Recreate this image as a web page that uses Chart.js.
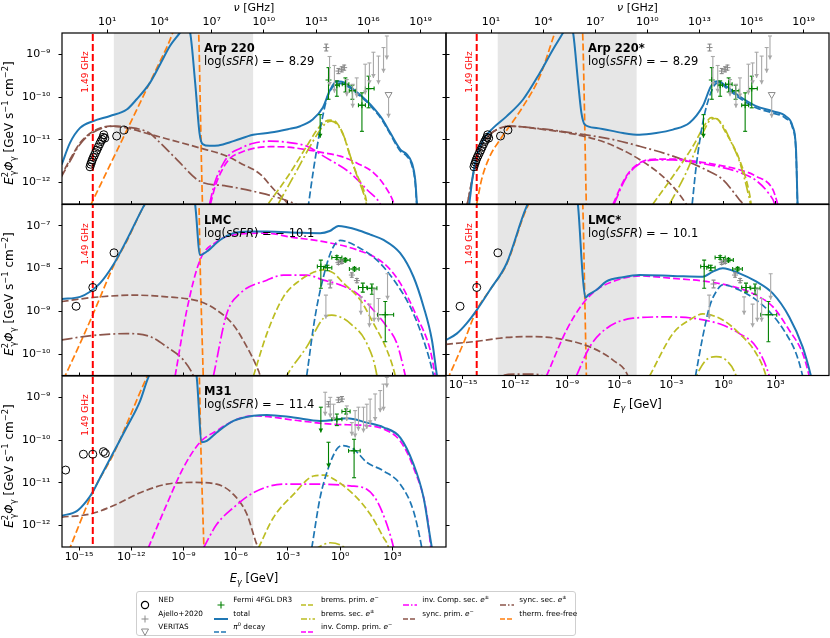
<!DOCTYPE html>
<html>
<head>
<meta charset="utf-8">
<script src="https://cdn.jsdelivr.net/npm/chart.js@4.4.0/dist/chart.umd.min.js"></script>
<style>
  body { margin: 0; background: #fff; font-family: "DejaVu Sans", sans-serif; }
  #wrap { position: relative; width: 830px; height: 638px; overflow: hidden; }
  canvas { position: absolute; left: 0; top: 0; pointer-events: none; }
  .t { position: absolute; white-space: nowrap; color: #000; line-height: 13px; }
  .c { transform: translate(-50%, -50%); }
  .rot { transform: translate(-50%, -50%) rotate(-90deg); }
  sup, sub { font-size: 0.7em; line-height: 0; }
  #legend { position: absolute; left: 136px; top: 591px; width: 440px; height: 45px;
            border: 1px solid #cfcfcf; border-radius: 3px; background: #fff; box-sizing: border-box; }
  .lt { position: absolute; white-space: nowrap; font-size: 7.3px; line-height: 10px;
        transform: translateY(-50%); }
  .lh { position: absolute; }
</style>
</head>
<body>
<div id="wrap">
  <canvas id="c0" width="830" height="638"></canvas>
  <canvas id="c1" width="830" height="638"></canvas>
  <canvas id="c2" width="830" height="638"></canvas>
  <canvas id="c3" width="830" height="638"></canvas>
  <canvas id="c4" width="830" height="638"></canvas>
  <div id="legend"></div>
</div>
<script>
// ---- axes ----
const XMIN = 1.05e-16, XMAX = 1.2e6;          // E_gamma [GeV]
const NU_PER_GEV = 2.418e14;                  // GHz per GeV
const E_TICKS = [-15, -12, -9, -6, -3, 0, 3];
const NU_TICKS = [1, 4, 7, 10, 13, 16, 19];
const ROW_Y = [[-12.5, -8.5], [-10.5, -6.5], [-12.5, -8.5]];
const ROW_TICKS = [[-12, -11, -10, -9], [-10, -9, -8, -7], [-12, -11, -10, -9]];
const E_149 = 1.49 / NU_PER_GEV;
const SHADE = [1e-13, 1e-5];

// ---- data, [log10 E, log10 E^2 Phi] ----
const nedArp = [[-14.37,-11.63],[-14.33,-11.57],[-14.28,-11.52],[-14.24,-11.47],[-14.18,-11.41],[-14.12,-11.36],[-14.05,-11.3],[-13.98,-11.24],[-13.9,-11.17],[-13.82,-11.1],[-13.75,-11.04],[-13.68,-10.99],[-13.62,-10.94],[-13.58,-10.88],[-13.52,-10.96],[-12.84,-10.91],[-12.41,-10.77]];
const nedLmc = [[-15.17,-8.88],[-14.21,-8.44],[-12.99,-7.63]];
const nedM31 = [[-15.77,-10.70],[-14.75,-10.33],[-14.21,-10.33],[-13.6,-10.27],[-13.49,-10.31]];

// Fermi: [E, F, Elo, Ehi, Flo, Fhi, arrow]
const fermiArp = [[-1.15,-10.41,-1.15,-1.15,-10.95,-10.41,1],[-0.67,-9.6,-0.67,-0.67,-10.05,-9.31,0],[-0.19,-9.72,-0.33,-0.05,-9.98,-9.62,0],[0.3,-9.7,0.12,0.5,-9.88,-9.55,0],[0.7,-9.85,0.52,0.9,-10.05,-9.72,0],[1.25,-10.19,1.05,1.45,-10.8,-9.9,0],[1.63,-9.8,1.45,1.95,-10.25,-9.51,0]];
const fermiLmc = [[-1.11,-7.95,-1.31,-0.86,-8.46,-7.8,0],[-0.73,-7.98,-0.96,-0.48,-8.05,-7.92,0],[-0.19,-7.74,-0.48,0.1,-7.78,-7.7,0],[0.29,-7.8,0.0,0.57,-7.84,-7.76,0],[0.82,-8.01,0.53,1.09,-8.05,-7.97,0],[1.3,-8.44,1.05,1.53,-8.55,-8.34,0],[1.82,-8.46,1.57,2.11,-8.6,-8.36,0],[2.59,-9.08,2.15,3.07,-9.71,-8.77,0]];
const fermiM31 = [[-1.11,-9.23,-1.11,-1.11,-9.82,-9.23,1],[-0.67,-10.05,-0.67,-0.67,-10.64,-10.05,1],[-0.19,-9.51,-0.48,0.1,-9.66,-9.39,0],[0.34,-9.33,0.1,0.57,-9.39,-9.27,0],[0.8,-10.25,0.48,1.15,-10.88,-9.98,0]];

// Ajello+2020 detections: [E, F, Flo, Fhi]
const ajArp = [[-0.8,-8.84,-8.92,-8.76],[-0.1,-9.39,-9.45,-9.33],[0.09,-9.35,-9.41,-9.29],[0.23,-9.31,-9.37,-9.25]];
const ajLmc = [[-0.57,-8.36,-8.45,-8.27],[-0.1,-7.86,-7.9,-7.82],[0.1,-7.84,-7.88,-7.8],[0.67,-8.15,-8.2,-8.1],[0.96,-8.28,-8.33,-8.23]];
const ajM31 = [[-0.67,-9.16,-9.22,-9.1],[-0.1,-9.06,-9.12,-9.0],[0.1,-9.04,-9.1,-8.98]];

// upper limits: [E, Ftop, Farrow]
const ulArp = [[-0.61,-9.05,-9.74],[-0.33,-9.26,-9.9],[0.38,-9.59,-9.98],[0.72,-9.7,-10.25],[0.95,-9.55,-10.01],[1.44,-9.23,-9.94],[1.68,-9.2,-9.7],[1.91,-8.95,-9.55],[2.2,-9.04,-9.7],[2.49,-8.84,-9.43],[2.68,-8.57,-9.12]];
const ulLmc = [[-0.82,-8.62,-9.17],[1.19,-8.66,-9.08],[1.68,-8.83,-9.37],[1.95,-8.48,-9.24],[2.2,-8.7,-9.24],[2.72,-8.12,-8.73]];
const ulM31 = [[-0.86,-8.88,-9.43],[-0.57,-9.0,-9.47],[-0.38,-9.16,-9.55],[0.38,-9.2,-9.55],[0.67,-9.59,-9.9],[0.86,-9.31,-9.94],[1.05,-9.23,-9.78],[1.34,-9.23,-9.82],[1.53,-9.16,-9.74],[1.72,-9.04,-9.63],[2.01,-8.92,-9.55],[2.3,-8.84,-9.35],[2.49,-8.69,-9.31],[2.68,-8.53,-8.77]];
const verArp = [[2.78,-9.94,-10.48]];

// model curves
const arpTotal = [[-16.0,-11.58],[-15.52,-11.07],[-14.94,-10.72],[-14.18,-10.56],[-13.22,-10.44],[-12.26,-10.29],[-11.69,-10.05],[-10.92,-9.66],[-10.34,-9.23],[-9.77,-8.8],[-9.2,-8.49],[-8.9,-8.3],[-8.62,-8.49],[-8.33,-9.66],[-8.08,-10.84],[-7.9,-11.1],[-7.5,-11.14],[-7.0,-11.13],[-6.13,-11.03],[-5.0,-10.88],[-4.0,-10.83],[-3.0,-10.75],[-2.3,-10.68],[-1.6,-10.53],[-1.0,-10.25],[-0.6,-9.85],[-0.2,-9.63],[0.1,-9.64],[0.38,-9.7],[1.0,-9.9],[1.5,-10.08],[1.91,-10.25],[2.4,-10.5],[2.87,-10.83],[3.45,-11.22],[3.83,-11.34],[4.12,-11.54],[4.31,-11.93],[4.41,-12.5],[4.55,-13.2]];
const arpPi0 = [[-1.85,-12.6],[-1.53,-11.69],[-1.15,-10.76],[-0.77,-10.05],[-0.38,-9.74],[-0.05,-9.68],[0.38,-9.74],[1.0,-9.93],[1.5,-10.1],[1.91,-10.28],[2.4,-10.53],[2.87,-10.86],[3.45,-11.26],[3.83,-11.38],[4.12,-11.6],[4.31,-12.0],[4.41,-12.6]];
const arpBremP = [[-4.12,-12.49],[-3.0,-11.85],[-2.0,-11.2],[-1.3,-10.75],[-0.9,-10.58],[-0.57,-10.54],[-0.2,-10.6],[0.2,-10.9],[0.57,-11.38],[1.0,-11.85],[1.34,-12.16],[1.53,-12.5],[1.6,-12.8]];
const arpBremS = [[-3.55,-12.49],[-2.6,-11.8],[-1.8,-11.2],[-1.2,-10.8],[-0.8,-10.6],[-0.5,-10.56],[-0.15,-10.65],[0.25,-10.95],[0.6,-11.4],[1.0,-11.88],[1.3,-12.2],[1.5,-12.5],[1.6,-12.8]];
const arpIcP = [[-7.45,-12.5],[-7.15,-12.05],[-6.71,-11.65],[-6.32,-11.43],[-5.75,-11.3],[-4.98,-11.2],[-4.0,-11.16],[-3.0,-11.17],[-1.92,-11.23],[-1.0,-11.3],[0.0,-11.38],[1.0,-11.55],[1.92,-11.77],[2.6,-12.1],[3.07,-12.47],[3.3,-12.8]];
const arpIcS = [[-7.5,-12.5],[-7.2,-12.0],[-6.71,-11.55],[-6.32,-11.33],[-5.75,-11.2],[-4.98,-11.08],[-4.0,-11.03],[-3.0,-11.06],[-1.9,-11.15],[-0.96,-11.38],[0.57,-11.77],[1.53,-12.16],[2.3,-12.5],[2.5,-12.7]];
const arpSyncP = [[-16.09,-11.89],[-15.52,-11.46],[-14.94,-11.07],[-14.18,-10.8],[-13.22,-10.68],[-12.26,-10.72],[-10.92,-10.87],[-8.05,-11.19],[-6.51,-11.38],[-5.75,-11.54],[-4.6,-11.8],[-3.83,-12.15],[-3.0,-12.5],[-2.6,-12.8]];
const arpSyncS = [[-16.09,-11.92],[-15.52,-11.5],[-14.94,-11.1],[-14.18,-10.82],[-13.0,-10.68],[-12.2,-10.7],[-10.92,-10.85],[-10.34,-11.07],[-9.38,-11.46],[-8.05,-11.97],[-6.51,-12.08],[-4.6,-12.24],[-3.2,-12.4],[-2.5,-12.52],[-2.0,-12.7]];
const arpFF = [[-14.6,-12.75],[-12.0,-10.56],[-10.0,-8.87],[-8.3,-7.45],[-8.12,-8.6],[-8.03,-10.3],[-7.97,-11.5],[-7.9,-12.7]];

const arsTotal = [[-14.8,-13.0],[-14.64,-12.5],[-14.41,-11.77],[-14.21,-11.38],[-13.83,-10.99],[-13.26,-10.72],[-12.49,-10.45],[-11.53,-10.05],[-10.57,-9.43],[-9.81,-8.88],[-9.23,-8.49],[-8.9,-8.25],[-8.66,-8.49],[-8.37,-9.66],[-8.18,-10.37],[-7.99,-10.64],[-7.32,-10.72],[-5.79,-10.84],[-4.83,-10.88],[-3.87,-10.84],[-2.91,-10.76],[-1.95,-10.6],[-1.19,-10.21],[-0.71,-9.74],[-0.33,-9.63],[0.15,-9.74],[0.92,-9.98],[1.88,-10.21],[2.84,-10.33],[3.6,-10.45],[3.98,-10.68],[4.18,-11.23],[4.27,-12.5],[4.35,-13.0]];
const arsPi0 = [[-1.8,-12.5],[-1.57,-11.62],[-1.19,-10.6],[-0.8,-9.98],[-0.42,-9.68],[-0.2,-9.66],[0.15,-9.78],[0.92,-10.02],[1.88,-10.25],[2.84,-10.37],[3.6,-10.5],[3.98,-10.72],[4.18,-11.3],[4.27,-12.6]];
const arsBremP = [[-4.06,-12.5],[-2.91,-11.85],[-1.76,-11.15],[-1.0,-10.6],[-0.71,-10.48],[-0.4,-10.5],[0.15,-10.84],[0.92,-11.46],[1.49,-12.24],[1.59,-12.5],[1.65,-12.8]];
const arsBremS = [[-3.1,-12.5],[-2.15,-11.77],[-1.19,-10.84],[-0.71,-10.52],[-0.45,-10.5],[-0.1,-10.62],[0.5,-11.1],[0.92,-11.5],[1.45,-12.3],[1.55,-12.5],[1.6,-12.8]];
const arsIcP = [[-6.36,-12.5],[-5.6,-11.85],[-4.83,-11.54],[-3.87,-11.45],[-2.91,-11.45],[-1.0,-11.54],[0.92,-11.7],[1.88,-11.85],[2.84,-12.16],[3.12,-12.5],[3.3,-12.8]];
const arsIcS = [[-6.3,-12.5],[-5.6,-11.88],[-4.83,-11.56],[-3.87,-11.47],[-2.91,-11.47],[-1.0,-11.57],[0.92,-11.76],[1.88,-11.95],[2.6,-12.25],[2.95,-12.5],[3.1,-12.8]];
const arsSyncP = [[-14.8,-12.6],[-14.4,-11.8],[-14.0,-11.2],[-13.5,-10.9],[-13.0,-10.75],[-12.3,-10.68],[-10.5,-10.75],[-8.66,-10.86],[-6.74,-11.07],[-4.83,-11.46],[-3.3,-11.93],[-2.15,-12.5],[-1.9,-12.7]];
const arsSyncS = [[-14.8,-12.6],[-14.4,-11.8],[-14.0,-11.2],[-13.5,-10.9],[-13.0,-10.75],[-12.3,-10.68],[-10.5,-10.74],[-8.66,-10.84],[-6.5,-10.98],[-4.83,-11.15],[-2.91,-11.38],[-1.0,-11.7],[-0.04,-11.93],[0.92,-12.4],[1.11,-12.5],[1.3,-12.7]];
const arsFF = [[-14.21,-12.5],[-13.93,-11.93],[-13.45,-11.38],[-12.87,-11.0],[-11.53,-10.21],[-10.57,-9.51],[-9.71,-8.49],[-9.2,-7.9],[-8.3,-7.3],[-8.1,-8.6],[-8.0,-10.4],[-7.95,-11.5],[-7.89,-12.7]];

const lmcTotal = [[-16.0,-8.71],[-14.94,-8.66],[-14.37,-8.54],[-13.79,-8.34],[-13.03,-7.91],[-12.26,-7.33],[-11.3,-6.55],[-10.5,-6.0],[-9.5,-5.6],[-8.6,-6.0],[-8.33,-6.5],[-8.05,-7.68],[-7.66,-7.6],[-6.9,-7.33],[-6.13,-7.17],[-5.17,-7.13],[-4.21,-7.13],[-2.3,-7.16],[-1.15,-7.17],[-0.6,-7.12],[-0.1,-7.0],[0.4,-7.03],[0.96,-7.09],[1.7,-7.2],[2.49,-7.33],[3.45,-7.64],[4.21,-8.19],[4.79,-8.89],[5.27,-9.67],[5.56,-10.5],[5.7,-10.8]];
const lmcPi0 = [[-1.92,-10.5],[-1.44,-9.12],[-0.96,-8.19],[-0.48,-7.56],[0.0,-7.34],[0.3,-7.36],[0.96,-7.48],[2.11,-7.8],[3.07,-8.26],[4.02,-8.89],[4.79,-9.67],[5.36,-10.5],[5.5,-10.8]];
const lmcBremP = [[-4.98,-10.51],[-4.21,-9.52],[-3.26,-8.66],[-2.3,-8.27],[-1.5,-8.08],[-1.0,-8.03],[-0.4,-8.1],[0.19,-8.34],[1.15,-8.73],[1.91,-9.28],[2.68,-9.9],[3.16,-10.5],[3.3,-10.8]];
const lmcBremS = [[-3.2,-10.6],[-2.87,-10.37],[-1.92,-9.83],[-0.96,-9.16],[-0.48,-9.09],[0.0,-9.13],[0.57,-9.28],[1.53,-9.75],[2.11,-10.5],[2.2,-10.8]];
const lmcIcP = [[-9.48,-10.51],[-8.81,-8.97],[-8.05,-7.8],[-7.09,-7.37],[-6.13,-7.21],[-4.21,-7.17],[-2.87,-7.26],[-0.96,-7.37],[0.96,-7.56],[2.49,-7.87],[3.45,-8.34],[4.4,-9.12],[5.17,-9.9],[5.46,-10.5],[5.6,-10.8]];
const lmcIcS = [[-7.28,-10.51],[-6.51,-9.05],[-5.75,-8.58],[-4.21,-8.27],[-3.26,-8.15],[-1.92,-8.15],[-0.96,-8.27],[0.0,-8.38],[0.96,-8.58],[1.91,-8.97],[2.68,-9.36],[3.26,-9.75],[3.74,-10.5],[3.9,-10.8]];
const lmcSyncP = [[-16.0,-8.77],[-14.75,-8.7],[-13.79,-8.66],[-11.88,-8.62],[-9.96,-8.66],[-8.05,-8.77],[-7.09,-8.97],[-6.13,-9.32],[-5.36,-9.83],[-4.79,-10.3],[-4.6,-10.51],[-4.5,-10.8]];
const lmcSyncS = [[-16.0,-9.67],[-14.75,-9.59],[-13.79,-9.55],[-12.26,-9.52],[-10.92,-9.59],[-9.96,-9.83],[-9.0,-10.14],[-8.43,-10.51],[-8.2,-10.8]];
const lmcFF = [[-15.9,-10.6],[-14.94,-9.75],[-14.18,-9.05],[-13.03,-7.95],[-12.26,-7.36],[-11.3,-6.55],[-9.5,-5.3],[-8.3,-4.8],[-8.12,-6.3],[-8.05,-7.8],[-7.86,-10.6]];

const lmsTotal = [[-15.98,-9.67],[-15.36,-9.52],[-14.79,-9.28],[-14.21,-8.97],[-13.45,-8.5],[-12.49,-7.88],[-11.34,-6.55],[-10.5,-6.0],[-9.5,-5.6],[-8.6,-6.0],[-8.37,-6.55],[-8.1,-8.2],[-7.95,-8.68],[-7.8,-8.62],[-7.32,-8.5],[-6.74,-8.3],[-5.79,-8.2],[-4.83,-8.15],[-2.91,-8.17],[-1.19,-8.19],[-0.61,-8.07],[-0.04,-7.99],[0.92,-8.11],[1.88,-8.3],[2.84,-8.58],[3.79,-9.13],[4.56,-9.83],[5.04,-10.51],[5.2,-10.8]];
const lmsPi0 = [[-1.61,-10.51],[-1.19,-9.59],[-0.8,-8.89],[-0.42,-8.54],[-0.04,-8.38],[0.3,-8.4],[0.92,-8.5],[1.88,-8.73],[2.84,-9.09],[3.6,-9.52],[4.18,-9.98],[4.56,-10.51],[4.7,-10.8]];
const lmsBremP = [[-4.25,-10.51],[-2.91,-9.52],[-1.95,-9.2],[-1.19,-9.06],[-0.04,-9.2],[0.92,-9.52],[1.88,-9.98],[2.45,-10.51],[2.6,-10.8]];
const lmsBremS = [[-1.9,-10.8],[-1.57,-10.51],[-1.0,-10.14],[-0.42,-10.06],[0.15,-10.14],[0.73,-10.51],[0.9,-10.8]];
const lmsIcP = [[-10.19,-10.51],[-9.04,-9.44],[-8.08,-8.81],[-7.32,-8.5],[-6.36,-8.3],[-4.83,-8.17],[-2.91,-8.23],[-1.0,-8.3],[0.92,-8.46],[1.88,-8.62],[2.84,-8.89],[3.79,-9.44],[4.56,-9.98],[4.94,-10.51],[5.1,-10.8]];
const lmsIcS = [[-8.47,-10.51],[-7.7,-9.83],[-6.74,-9.4],[-5.21,-9.16],[-3.3,-9.13],[-1.76,-9.16],[-0.04,-9.32],[0.92,-9.52],[1.88,-9.83],[2.64,-10.51],[2.8,-10.8]];
const lmsSyncP = [[-15.98,-9.77],[-14.41,-9.71],[-12.49,-9.61],[-11.15,-9.59],[-9.62,-9.63],[-7.7,-9.83],[-6.36,-10.14],[-5.5,-10.51],[-5.3,-10.8]];
const lmsSyncS = [[-13.4,-10.8],[-13.0,-10.56],[-12.0,-10.47],[-11.0,-10.47],[-10.2,-10.56],[-9.8,-10.8]];
const lmsFF = [[-15.9,-10.6],[-14.98,-9.75],[-14.21,-8.97],[-13.45,-8.5],[-12.49,-7.9],[-11.34,-6.6],[-9.5,-5.4],[-8.3,-5.0],[-8.1,-6.5],[-7.99,-8.6],[-7.89,-10.6]];

const m31Total = [[-16.0,-11.77],[-15.13,-11.66],[-14.56,-11.42],[-14.18,-11.19],[-13.79,-10.88],[-13.03,-10.29],[-12.26,-9.7],[-11.49,-9.08],[-11.02,-8.53],[-10.0,-7.8],[-8.7,-7.7],[-8.24,-8.53],[-7.95,-10.05],[-7.66,-10.02],[-7.09,-9.82],[-6.13,-9.55],[-4.98,-9.43],[-4.21,-9.41],[-2.68,-9.47],[-1.15,-9.55],[-0.38,-9.53],[0.38,-9.49],[1.53,-9.59],[2.49,-9.7],[3.45,-9.94],[4.21,-10.56],[4.79,-11.34],[5.08,-12.05],[5.27,-12.52],[5.4,-12.8]];
const m31Pi0 = [[-1.63,-12.52],[-1.15,-11.34],[-0.67,-10.64],[-0.19,-10.21],[0.1,-10.13],[0.77,-10.21],[1.53,-10.52],[2.49,-10.72],[3.45,-11.03],[4.21,-11.66],[4.69,-12.52],[4.8,-12.8]];
const m31BremP = [[-4.69,-12.52],[-3.83,-11.81],[-2.68,-11.27],[-1.53,-10.84],[-0.9,-10.82],[-0.38,-10.91],[0.77,-11.27],[1.72,-11.73],[2.49,-12.28],[2.78,-12.52],[2.9,-12.8]];
const m31BremS = [[-1.6,-12.6],[-1.0,-12.45],[-0.57,-12.4],[0.0,-12.45],[0.5,-12.6]];
const m31IcP = [[-11.02,-12.52],[-9.96,-11.5],[-9.0,-10.64],[-8.05,-10.05],[-7.09,-9.78],[-6.13,-9.55],[-4.98,-9.43],[-2.3,-9.55],[-0.38,-9.63],[1.53,-9.66],[2.49,-9.74],[3.45,-10.02],[4.21,-10.64],[4.98,-11.73],[5.21,-12.52],[5.3,-12.8]];
const m31IcS = [[-7.85,-12.52],[-7.09,-11.97],[-6.13,-11.58],[-4.98,-11.23],[-3.26,-11.03],[-1.34,-11.03],[0.57,-11.07],[1.53,-11.15],[2.11,-11.42],[2.68,-11.97],[3.07,-12.52],[3.2,-12.8]];
const m31SyncP = [[-16.0,-11.8],[-14.37,-11.73],[-12.84,-11.5],[-11.49,-11.23],[-9.96,-11.03],[-8.43,-10.99],[-7.09,-11.03],[-6.13,-11.27],[-5.36,-11.73],[-4.79,-12.44],[-4.69,-12.52],[-4.6,-12.8]];
const m31FF = [[-15.6,-12.6],[-14.18,-11.19],[-13.03,-10.33],[-11.11,-8.53],[-9.5,-7.2],[-8.3,-6.9],[-8.12,-8.0],[-8.0,-10.2],[-7.82,-12.6]];

// ---- styles ----
const DASH = [7, 3], DD = [11, 3, 2, 3];
const STYLES = [
  ['#1f77b4', [], 2], ['#1f77b4', DASH, 1.7],
  ['#bcbd22', DASH, 1.7], ['#bcbd22', DD, 1.7],
  ['#ff00ff', DASH, 1.7], ['#ff00ff', DD, 1.7],
  ['#8c564b', DASH, 1.7], ['#8c564b', DD, 1.7],
  ['#ff7f0e', DASH, 1.7]
];
const GREEN = '#008000', GREY = '#8a8a8a', LGREY = '#a8a8a8';

const panels = [
  { L: 62, T: 33, W: 384, H: 171, row: 0, col: 0, xLab: false, name: 'Arp 220', ssfr: '8.29',
    lines: [arpTotal, arpPi0, arpBremP, arpBremS, arpIcP, arpIcS, arpSyncP, arpSyncS, arpFF],
    ned: nedArp, fermi: fermiArp, aj: ajArp, ul: ulArp, ver: verArp },
  { L: 446, T: 33, W: 383, H: 171, row: 0, col: 1, xLab: false, name: 'Arp 220*', ssfr: '8.29',
    lines: [arsTotal, arsPi0, arsBremP, arsBremS, arsIcP, arsIcS, arsSyncP, arsSyncS, arsFF],
    ned: nedArp, fermi: fermiArp, aj: ajArp, ul: ulArp, ver: verArp },
  { L: 62, T: 204.5, W: 384, H: 171, row: 1, col: 0, xLab: false, name: 'LMC', ssfr: '10.1',
    lines: [lmcTotal, lmcPi0, lmcBremP, lmcBremS, lmcIcP, lmcIcS, lmcSyncP, lmcSyncS, lmcFF],
    ned: nedLmc, fermi: fermiLmc, aj: ajLmc, ul: ulLmc, ver: [] },
  { L: 446, T: 204.5, W: 383, H: 171, row: 1, col: 1, xLab: true, name: 'LMC*', ssfr: '10.1',
    lines: [lmsTotal, lmsPi0, lmsBremP, lmsBremS, lmsIcP, lmsIcS, lmsSyncP, lmsSyncS, lmsFF],
    ned: nedLmc, fermi: fermiLmc, aj: ajLmc, ul: ulLmc, ver: [] },
  { L: 62, T: 376, W: 384, H: 171, row: 2, col: 0, xLab: true, name: 'M31', ssfr: '11.4',
    lines: [m31Total, m31Pi0, m31BremP, m31BremS, m31IcP, m31IcS, m31SyncP, null, m31FF],
    ned: nedM31, fermi: fermiM31, aj: ajM31, ul: ulM31, ver: [] }
];

const SUPS = { '-': '⁻', '0': '⁰', '1': '¹', '2': '²', '3': '³', '4': '⁴', '5': '⁵', '6': '⁶', '7': '⁷', '8': '⁸', '9': '⁹' };
const pw = v => '10' + String(Math.round(Math.log10(v))).replace(/[-0-9]/g, c => SUPS[c]);
const pts = a => a.map(p => ({ x: 10 ** p[0], y: 10 ** p[1] }));
const FONT = { family: 'DejaVu Sans', size: 11 };

// ---- plugins ----
const shadePlugin = {
  id: 'shade',
  beforeDatasetsDraw(chart) {
    const { ctx, chartArea: a, scales: { x } } = chart;
    const x1 = x.getPixelForValue(SHADE[0]), x2 = x.getPixelForValue(SHADE[1]);
    ctx.save();
    ctx.fillStyle = 'rgba(128,128,128,0.2)';
    ctx.fillRect(x1, a.top, x2 - x1, a.bottom - a.top);
    ctx.restore();
  }
};

const errPlugin = {
  id: 'errbars',
  afterDatasetsDraw(chart) {
    const { ctx, chartArea: a, scales: { x, y } } = chart;
    const X = v => x.getPixelForValue(10 ** v), Y = v => y.getPixelForValue(10 ** v);
    const seg = (x1, y1, x2, y2) => { ctx.beginPath(); ctx.moveTo(x1, y1); ctx.lineTo(x2, y2); ctx.stroke(); };
    const arrow = (px, py) => {
      ctx.beginPath(); ctx.moveTo(px - 2.3, py - 4); ctx.lineTo(px + 2.3, py - 4); ctx.lineTo(px, py); ctx.closePath(); ctx.fill();
    };
    ctx.save();
    ctx.beginPath(); ctx.rect(a.left, a.top, a.right - a.left, a.bottom - a.top); ctx.clip();
    ctx.lineWidth = 1.1;
    chart.data.datasets.forEach(ds => {
      if (!ds.bars) return;
      ctx.strokeStyle = ds.barColor; ctx.fillStyle = ds.barColor;
      ds.bars.forEach(b => {
        if (ds.barKind === 'fermi') {
          const px = X(b[0]), py = Y(b[1]);
          if (b[2] !== b[3]) {
            const xl = X(b[2]), xh = X(b[3]);
            seg(xl, py, xh, py); seg(xl, py - 2, xl, py + 2); seg(xh, py - 2, xh, py + 2);
          }
          const yt = Y(b[5]), yb = Y(b[4]);
          seg(px, yt, px, yb); seg(px - 2, yt, px + 2, yt);
          if (b[6]) arrow(px, yb); else seg(px - 2, yb, px + 2, yb);
        } else if (ds.barKind === 'aj') {
          const px = X(b[0]), yt = Y(b[3]), yb = Y(b[2]);
          seg(px, yt, px, yb); seg(px - 2, yt, px + 2, yt); seg(px - 2, yb, px + 2, yb);
        } else if (ds.barKind === 'ul') {
          const px = X(b[0]), yt = Y(b[1]), yb = Y(b[2]);
          seg(px, yt, px, yb); seg(px - 2, yt, px + 2, yt); arrow(px, yb);
        } else if (ds.barKind === 'ver') {
          const px = X(b[0]), yt = Y(b[1]) + 4, yb = Y(b[2]);
          seg(px, yt, px, yb); arrow(px, yb);
        }
      });
    });
    ctx.restore();
  }
};

const framePlugin = {
  id: 'frame',
  afterDraw(chart) {
    const { ctx, chartArea: a } = chart;
    ctx.save();
    ctx.strokeStyle = '#000'; ctx.lineWidth = 1.2;
    ctx.strokeRect(a.left, a.top, a.right - a.left, a.bottom - a.top);
    ctx.restore();
  }
};

// ---- build panels ----
const wrap = document.getElementById('wrap');
function addText(html, cls, style) {
  const d = document.createElement('div');
  d.className = 't ' + cls;
  d.innerHTML = html;
  Object.assign(d.style, style);
  wrap.appendChild(d);
  return d;
}

function logAxis(o) {
  return Object.assign({
    type: 'logarithmic', bounds: 'data',
    grid: { display: true, drawOnChartArea: false, drawTicks: true, tickLength: 3.5, color: '#000', lineWidth: 1 },
    border: { display: false }
  }, o);
}

panels.forEach((p, i) => {
  const left = p.col === 0, top = p.row === 0;
  const yw = left ? 62 : 4, rw = left ? 4 : 0;
  const th = top ? 33 : 4, bh = p.xLab ? 30 : 0;
  const yr = ROW_Y[p.row], yt = ROW_TICKS[p.row];
  const pad = { left: p.L - yw, right: 830 - p.L - p.W - rw, top: p.T - th, bottom: 638 - p.T - p.H - bh };

  const datasets = [];
  // markers
  datasets.push({ data: pts(p.fermi.filter(b => !b[6])), showLine: false, pointStyle: 'cross', pointRadius: 3,
    pointBorderColor: GREEN, pointBorderWidth: 1.1, bars: p.fermi, barKind: 'fermi', barColor: GREEN });
  datasets.push({ data: pts(p.aj), showLine: false, pointStyle: 'cross', pointRadius: 3,
    pointBorderColor: GREY, pointBorderWidth: 1, bars: p.aj, barKind: 'aj', barColor: GREY });
  datasets.push({ data: [], showLine: false, pointRadius: 0, bars: p.ul, barKind: 'ul', barColor: LGREY });
  datasets.push({ data: pts(p.ver), showLine: false, pointStyle: 'triangle', rotation: 180, pointRadius: 4,
    pointBorderColor: GREY, pointBackgroundColor: 'rgba(0,0,0,0)', pointBorderWidth: 1,
    bars: p.ver, barKind: 'ver', barColor: LGREY });
  datasets.push({ data: pts(p.ned), showLine: false, pointStyle: 'circle', pointRadius: 4,
    pointBorderColor: '#000', pointBackgroundColor: 'rgba(0,0,0,0)', pointBorderWidth: 1 });
  // 1.49 GHz line
  datasets.push({ data: [{ x: E_149, y: 1e-15 }, { x: E_149, y: 1e-3 }], borderColor: '#ff0000',
    borderDash: [7, 3], borderWidth: 2, pointRadius: 0 });
  // model curves
  p.lines.forEach((arr, k) => {
    if (!arr) return;
    const [c, d, w] = STYLES[k];
    datasets.push({ data: pts(arr), borderColor: c, borderDash: d, borderWidth: w, pointRadius: 0,
      cubicInterpolationMode: 'monotone', capBezierPoints: false });
  });
  datasets.forEach(ds => { ds.type = 'line'; ds.xAxisID = 'x'; ds.yAxisID = 'y'; ds.fill = false; });

  const scales = {
    x: logAxis({
      position: 'bottom', display: p.xLab, min: XMIN, max: XMAX,
      afterBuildTicks: s => { s.ticks = E_TICKS.map(e => ({ value: 10 ** e })); },
      afterFit: s => { s.height = bh; },
      ticks: { callback: pw, padding: 0, maxRotation: 0, minRotation: 0, autoSkip: false, font: FONT, color: '#000' }
    }),
    y: logAxis({
      position: 'left', min: 10 ** yr[0], max: 10 ** yr[1],
      afterBuildTicks: s => { s.ticks = yt.map(e => ({ value: 10 ** e })); },
      afterFit: s => { s.width = yw; },
      ticks: { display: left, callback: pw, padding: 8, autoSkip: false, font: FONT, color: '#000' }
    }),
    t: logAxis({
      position: 'top', axis: 'x',
      min: top ? XMIN * NU_PER_GEV : XMIN, max: top ? XMAX * NU_PER_GEV : XMAX,
      afterBuildTicks: s => { s.ticks = (top ? NU_TICKS : E_TICKS).map(e => ({ value: 10 ** e })); },
      afterFit: s => { s.height = th; },
      ticks: { display: top, callback: pw, padding: 1, maxRotation: 0, minRotation: 0, autoSkip: false, font: FONT, color: '#000' }
    })
  };
  if (left) {
    scales.r = logAxis({
      position: 'right', axis: 'y', min: 10 ** yr[0], max: 10 ** yr[1],
      afterBuildTicks: s => { s.ticks = yt.map(e => ({ value: 10 ** e })); },
      afterFit: s => { s.width = rw; },
      ticks: { display: false }
    });
  }

  const chart = new Chart(document.getElementById('c' + i), {
    type: 'line',
    data: { datasets },
    options: {
      responsive: false, animation: false, events: [],
      layout: { padding: pad, autoPadding: false },
      plugins: { legend: { display: false }, tooltip: { enabled: false } },
      scales
    },
    plugins: [shadePlugin, errPlugin, framePlugin]
  });

  // annotations
  const xl = chart.scales.x.getPixelForValue(E_149);
  addText('1.49 GHz', 'rot', { left: (xl - 7.5) + 'px', top: (p.T + 39) + 'px', fontSize: '9px', color: '#ff0000' });
  addText('<b>' + p.name + '</b><br>log(<i>sSFR</i>) = − ' + p.ssfr, '',
    { left: (p.L + 142) + 'px', top: (p.T + 9) + 'px', fontSize: '11.5px' });
  if (left) {
    addText('<i>E</i><sup>2</sup><sub style="margin-left:-0.45em">γ</sub><i>Φ</i><sub>γ</sub> [GeV s<sup>−1</sup> cm<sup>−2</sup>]',
      'rot', { left: '9px', top: (p.T + p.H / 2 + 4) + 'px', fontSize: '12px' });
  }
  if (top) addText('<i>ν</i> [GHz]', 'c', { left: (p.L + p.W / 2) + 'px', top: '7px', fontSize: '11px' });
});

addText('<i>E</i><sub><i>γ</i></sub> [GeV]', 'c', { left: '254px', top: '578px', fontSize: '11.5px' });
addText('<i>E</i><sub><i>γ</i></sub> [GeV]', 'c', { left: '637.5px', top: '404px', fontSize: '11.5px' });

// ---- legend ----
const LEG_COLS = [[145, 158.3], [220.5, 233.3], [308, 321], [409.7, 422.3], [506.7, 519.3]];
const LEG_ROWS = [600, 613.5, 627];
const LEG = [
  [0, 0, 'ned', 'NED'], [0, 1, 'aj', 'Ajello+2020'], [0, 2, 'ver', 'VERITAS'],
  [1, 0, 'fermi', 'Fermi 4FGL DR3'], [1, 1, 0, 'total'], [1, 2, 1, '<i>π</i><sup>0</sup> decay'],
  [2, 0, 2, 'brems. prim. <i>e</i><sup>−</sup>'], [2, 1, 3, 'brems. sec. <i>e</i><sup>±</sup>'],
  [2, 2, 4, 'inv. Comp. prim. <i>e</i><sup>−</sup>'],
  [3, 0, 5, 'inv. Comp. sec. <i>e</i><sup>±</sup>'], [3, 1, 6, 'sync. prim. <i>e</i><sup>−</sup>'],
  [4, 0, 7, 'sync. sec. <i>e</i><sup>±</sup>'], [4, 1, 8, 'therm. free-free']
];
LEG.forEach(([c, r, h, label]) => {
  const [hx, tx] = LEG_COLS[c], y = LEG_ROWS[r];
  let svg;
  if (h === 'ned') svg = '<circle cx="8" cy="5" r="3.6" fill="none" stroke="#000" stroke-width="1.2"/>';
  else if (h === 'aj') svg = '<path d="M4.5 5H11.5M8 1.5V8.5" stroke="' + GREY + '" stroke-width="1"/>';
  else if (h === 'ver') svg = '<path d="M4.5 2H11.5L8 8.5Z" fill="none" stroke="' + GREY + '" stroke-width="1"/>';
  else if (h === 'fermi') svg = '<path d="M4.5 5H11.5M8 1.5V8.5" stroke="' + GREEN + '" stroke-width="1.1"/>';
  else {
    const [col, dash, w] = STYLES[h];
    const da = dash.length ? ' stroke-dasharray="' + (dash === DASH ? '5 2' : '6 2 1.5 2') + '"' : '';
    svg = '<line x1="1" y1="5" x2="15" y2="5" stroke="' + col + '" stroke-width="' + w + '"' + da + '/>';
  }
  const hd = document.createElement('div');
  hd.className = 'lh';
  hd.style.left = (hx - 8) + 'px'; hd.style.top = (y - 5) + 'px';
  hd.innerHTML = '<svg width="16" height="10">' + svg + '</svg>';
  wrap.appendChild(hd);
  const td = document.createElement('div');
  td.className = 'lt';
  td.style.left = tx + 'px'; td.style.top = y + 'px';
  td.innerHTML = label;
  wrap.appendChild(td);
});
</script>
</body>
</html>
